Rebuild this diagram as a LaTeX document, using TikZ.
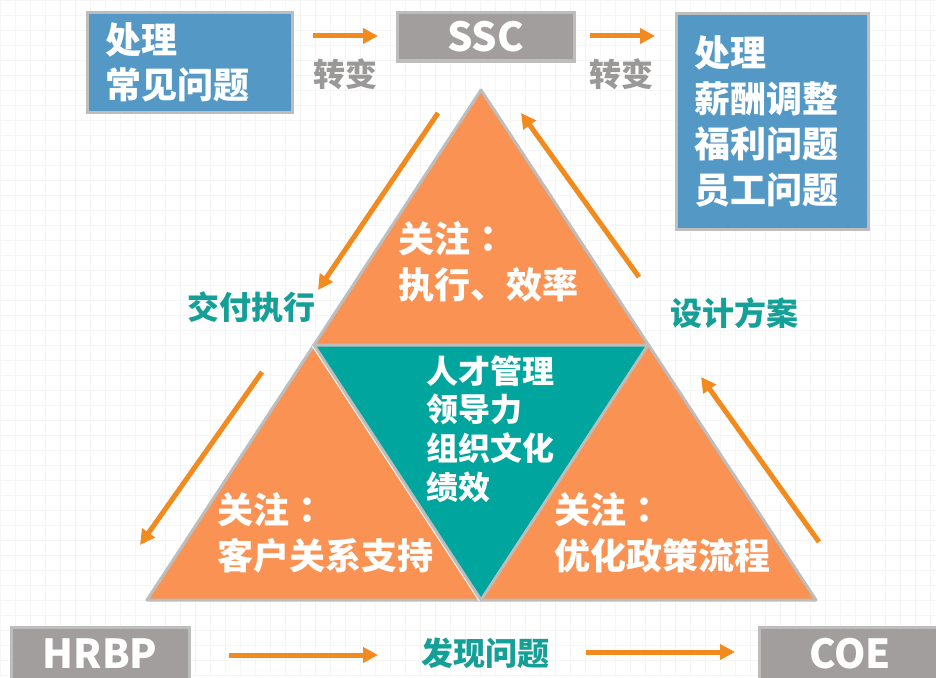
\documentclass[tikz,border=0pt]{standalone}
\usepackage{fontspec}
\setmainfont{Noto Sans CJK SC}
\newfontfamily\tcfont{Noto Sans CJK TC}
\usepackage{xcolor}
\usepackage{tikz}
\usetikzlibrary{arrows.meta}
\definecolor{hrblue}{HTML}{5499C6}
\definecolor{hrgray}{HTML}{A39E9E}
\definecolor{hrline}{HTML}{BDBDBD}
\definecolor{hrorange}{HTML}{F99252}
\definecolor{hrteal}{HTML}{00A59D}
\definecolor{hrarrow}{HTML}{F28A1E}
\definecolor{hrtext}{HTML}{14A096}
\definecolor{hrword}{HTML}{9B9898}
\newcommand{\hrcolon}{{\tcfont ：}}
\tikzset{
    bluebox/.style = {rectangle, draw=hrline, line width=3pt, fill=hrblue, text=white, align=left, inner xsep=18pt, font=\bfseries\fontsize{36}{45.5}\selectfont},
    graybox/.style = {rectangle, draw=hrline, line width=3pt, fill=hrgray, text=white, font=\bfseries\fontsize{40}{48}\selectfont},
    tritext/.style = {anchor=west, inner sep=0pt, align=left, text=white, font=\bfseries\fontsize{36}{46}\selectfont},
    midtext/.style = {anchor=west, inner sep=0pt, align=left, text=white, font=\bfseries\fontsize{32}{38.7}\selectfont},
    tlabel/.style = {inner sep=0pt, text=hrtext, font=\bfseries\fontsize{32}{38}\selectfont},
    glabel/.style = {inner sep=0pt, text=hrword, font=\bfseries\fontsize{32}{38}\selectfont},
    edgeo/.style = {line width=5pt, hrarrow, -{Triangle[length=15pt,width=15pt]}},
}
\begin{document}
\begin{tikzpicture}[x=1pt, y=-1pt]
\useasboundingbox (0,0) rectangle (936,677);
\fill[white] (0,0) rectangle (936,677);
\draw[black!4, line width=0.8pt] (0,0) grid[step=15pt] (936,677);
% pyramid corners
\coordinate (apex) at (481,90);
\coordinate (bl) at (147,600);
\coordinate (br) at (816,600);
\coordinate (ml) at (314,345);
\coordinate (mr) at (648,345);
\coordinate (bm) at (481,600);
\filldraw[fill=hrorange, draw=hrline, line width=3pt, line join=round] (apex) -- (bl) -- (br) -- cycle;
\draw[white, line width=5pt] (ml) -- (bm);
\filldraw[fill=hrteal, draw=hrline, line width=3pt, line join=round] (ml) -- (mr) -- (bm) -- cycle;
%
\node[tritext] (top) at (398,262) {关注\hrcolon\\执行、效率};
\node[tritext] (left) at (217,533) {关注\hrcolon\\客户关系支持};
\node[tritext] (right) at (554,533) {关注\hrcolon\\优化政策流程};
\node[midtext] (mid) at (426,429) {人才管理\\领导力\\组织文化\\绩效};
% boxes
\node[bluebox, minimum width=205pt, minimum height=99pt, text width=169pt] (boxl) at (189.5,62.5) {处理\\常见问题};
\node[graybox, minimum width=177pt, minimum height=48pt] (ssc) at (485.5,37) {SSC};
\node[bluebox, minimum width=192pt, minimum height=215pt, text width=156pt] (boxr) at (772,121.5) {处理\\薪酬调整\\福利问题\\员工问题};
\node[graybox, minimum width=178pt, minimum height=54pt] (hrbp) at (100,654) {HRBP};
\node[graybox, minimum width=182pt, minimum height=54pt] (coe) at (850,654) {COE};
% labels
\node[glabel] (tw1) at (345,74) {转变};
\node[glabel] (tw2) at (621,74) {转变};
\node[tlabel] (jf) at (251,307) {交付执行};
\node[tlabel] (sj) at (734,313) {设计方案};
\node[tlabel] (fx) at (485,653) {发现问题};
% arrows
\coordinate (a1s) at (313,36);  \coordinate (a1e) at (378,36);
\coordinate (a2s) at (590,36);  \coordinate (a2e) at (655,36);
\coordinate (a3s) at (438,113); \coordinate (a3e) at (318,290);
\coordinate (a4s) at (639,277); \coordinate (a4e) at (521,113);
\coordinate (a5s) at (262,372); \coordinate (a5e) at (140,545);
\coordinate (a6s) at (819,542); \coordinate (a6e) at (701,377);
\coordinate (a7s) at (229,655); \coordinate (a7e) at (378,655);
\coordinate (a8s) at (586,652); \coordinate (a8e) at (735,652);
\draw[edgeo] (a1s) -- (a1e);
\draw[edgeo] (a2s) -- (a2e);
\draw[edgeo] (a3s) -- (a3e);
\draw[edgeo] (a4s) -- (a4e);
\draw[edgeo] (a5s) -- (a5e);
\draw[edgeo] (a6s) -- (a6e);
\draw[edgeo] (a7s) -- (a7e);
\draw[edgeo] (a8s) -- (a8e);
\end{tikzpicture}
\end{document}
